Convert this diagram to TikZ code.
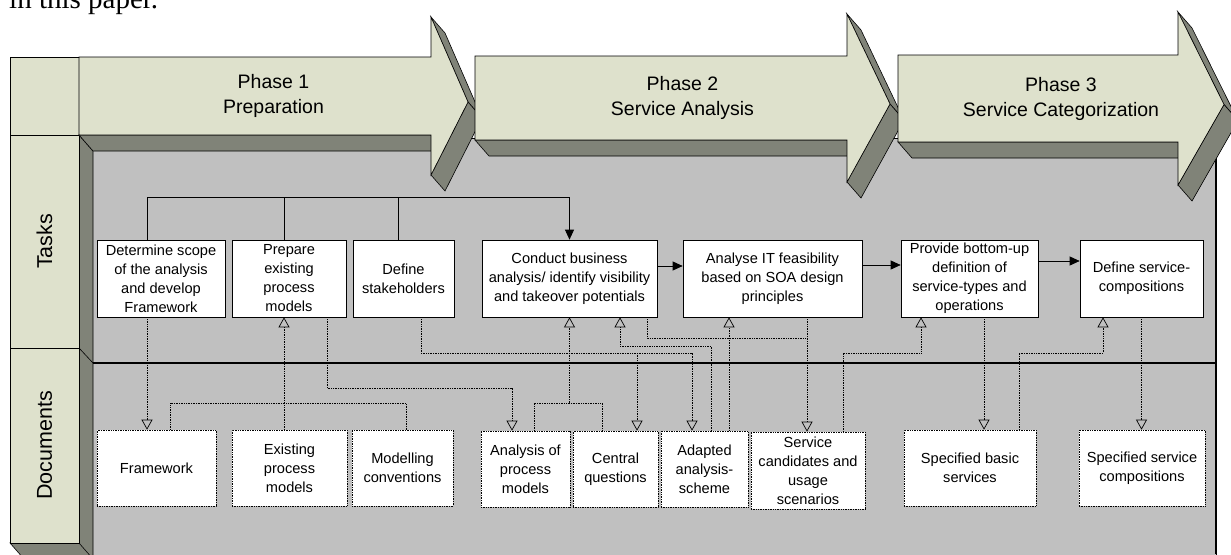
\documentclass[tikz,border=0pt]{standalone}
\usepackage{fontspec}
\setmainfont{Liberation Sans}
\newfontfamily\textserif{Liberation Serif}
\usetikzlibrary{arrows.meta}
\definecolor{facecol}{RGB}{222,225,204}
\definecolor{sidecol}{RGB}{128,131,120}
\definecolor{panelcol}{RGB}{192,192,192}
% name, left, neck, tip, top, bottom, head top, head bottom, text
\newcommand\phasearrow[9]{%
  \filldraw[side] (#2,#6) -- (#3,#6) -- ++(14,16) -- ({#2+14},{#6+16}) -- cycle;
  \filldraw[side] (#3,#7) -- (#4,{(#5+#6)/2+6}) -- ++(14,16) -- ({#3+14},{#7+16}) -- cycle;
  \filldraw[side] (#4,{(#5+#6)/2+6}) -- (#3,#8) -- ++(14,16) -- ({#4+14},{(#5+#6)/2+22}) -- cycle;
  \filldraw[face] (#2,#5) -- (#3,#5) -- (#3,#7) -- (#4,{(#5+#6)/2+6}) -- (#3,#8) -- (#3,#6) -- (#2,#6) -- cycle;
  \node[phase] (#1) at ({(#2+#4)/2},{(#5+#6)/2}) {#9};
}

\begin{document}
\begin{tikzpicture}[x=1pt,y=-1pt,
    face/.style={fill=facecol,draw=black,line width=0.6pt},
    side/.style={fill=sidecol,draw=black,line width=0.6pt},
    phase/.style={align=center,font=\fontsize{19.5}{25}\selectfont},
    lane/.style={rotate=90,font=\fontsize{21.5}{26}\selectfont},
    task/.style={draw,fill=white,line width=0.7pt,align=center,inner sep=0pt,minimum height=77pt,font=\fontsize{14.6}{19}\selectfont},
    doc/.style={task,densely dotted,minimum height=76pt},
    flow/.style={line width=0.7pt,-{Triangle[width=9pt,length=10pt]}},
    dep/.style={densely dotted,line width=0.7pt},
    ref/.style={dep,-{Triangle[open,width=11pt,length=10pt,line width=0.7pt]}}]
  \useasboundingbox (0,0) rectangle (1231,554);
  \node[anchor=base west,inner sep=0pt,font=\textserif\fontsize{29}{29}\selectfont] (intro) at (9,9) {in this paper.};

  \filldraw[fill=panelcol,draw=black,line width=0.6pt] (79,138) rectangle (1216,570);
  \draw[line width=2pt] (1216,138) -- (1216,554);
  \filldraw[side] (79,135) -- (93,151) -- (93,570) -- (79,543) -- cycle;
  \filldraw[side] (10,543) -- (79,543) -- (93,559) -- (24,559) -- cycle;
  \draw[line width=0.6pt] (79,348) -- (93,363);
  \filldraw[face] (10,57) rectangle (79,135);
  \filldraw[face] (10,135) rectangle (79,348);
  \filldraw[face] (10,348) rectangle (79,543);
  \node[lane] (tasks) at (44.5,241.5) {Tasks};
  \node[lane] (docs) at (44.5,445.5) {Documents};

  \phasearrow{ph1}{79}{431}{468}{57}{135}{17}{175}{Phase 1\\Preparation}
  \phasearrow{ph2}{475}{847}{890}{56}{140}{14}{182}{Phase 2\\Service Analysis}
  \phasearrow{ph3}{898}{1178}{1224}{55}{142}{12}{185}{Phase 3\\Service Categorization}

  \draw[line width=1.5pt] (93,363) -- (1216,363);

  \node[task,minimum width=128pt] (t1) at (161,278.5) {Determine scope\\of the analysis\\and develop\\Framework};
  \node[task,minimum width=114pt] (t2) at (289,278.5) {Prepare\\existing\\process\\models};
  \node[task,minimum width=101pt] (t3) at (403.5,278.5) {Define\\stakeholders};
  \node[task,minimum width=175pt] (t4) at (569.5,278.5) {Conduct business\\analysis/ identify visibility\\and takeover potentials};
  \node[task,minimum width=179pt] (t5) at (772.5,278.5) {Analyse IT feasibility\\based on SOA design\\principles};
  \node[task,minimum width=137pt] (t6) at (969.5,278.5) {Provide bottom-up\\definition of\\service-types and\\operations};
  \node[task,minimum width=123pt] (t7) at (1141.5,278.5) {Define service-\\compositions};

  \node[doc,minimum width=119pt] (d1) at (156.5,468) {Framework};
  \node[doc,minimum width=115pt] (d2) at (289.5,468) {Existing\\process\\models};
  \node[doc,minimum width=101pt] (d3) at (402.5,468) {Modelling\\conventions};
  \node[doc,minimum width=89pt] (d4) at (525.5,469) {Analysis of\\process\\models};
  \node[doc,minimum width=85pt] (d5) at (615.5,469) {Central\\questions};
  \node[doc,minimum width=87pt] (d6) at (704.5,469) {Adapted\\analysis-\\scheme};
  \node[doc,minimum width=114pt,minimum height=77pt] (d7) at (808,470.5) {Service\\candidates and\\usage\\scenarios};
  \node[doc,minimum width=132pt] (d8) at (970,468) {Specified basic\\services};
  \node[doc,minimum width=126pt] (d9) at (1142,468) {Specified service\\compositions};

  \coordinate (u1) at (147,197);
  \coordinate (u2) at (284,197);
  \coordinate (u3) at (398,197);
  \draw[flow] (t1.north -| u1) -- (u1) -| (t4.north);
  \draw[line width=0.7pt] (t2.north -| u2) -- (u2);
  \draw[line width=0.7pt] (t3.north -| u3) -- (u3);
  \draw[flow] ([yshift=12.5pt]t4.east) -- ([yshift=12.5pt]t5.west);
  \draw[flow] ([yshift=13.5pt]t5.east) -- ([yshift=13.5pt]t6.west);
  \draw[flow] ([yshift=17.5pt]t6.east) -- ([yshift=17.5pt]t7.west);

  \draw[ref] (t1.south -| u1) -- (d1.north -| u1);
  \coordinate (v1) at (170,403);
  \coordinate (v2) at (406,403);
  \draw[dep] (d1.north -| v1) -- (v1) -- (v2) -- (d3.north -| v2);
  \draw[ref] (d2.north -| u2) -- (t2.south -| u2);
  \coordinate (v3) at (327,388);
  \coordinate (v4) at (512,388);
  \draw[ref] (t2.south -| v3) -- (v3) -- (v4) -- (d4.north -| v4);
  \coordinate (v5) at (421,353);
  \coordinate (v6) at (637,353);
  \coordinate (v7) at (692,353);
  \draw[ref] (t3.south -| v5) -- (v5) -- (v7) -- (d6.north -| v7);
  \draw[ref] (v6) -- (d5.north -| v6);
  \coordinate (v8) at (534,403);
  \coordinate (v9) at (602,403);
  \draw[dep] (d4.north -| v8) -- (v8) -- (v9) -- (d5.north -| v9);
  \draw[ref] (t4.south |- v8) -- (t4.south);
  \coordinate (v10) at (620,346);
  \coordinate (v11) at (711,346);
  \draw[ref] (d6.north -| v11) -- (v11) -- (v10) -- (t4.south -| v10);
  \coordinate (v12) at (647,338);
  \coordinate (v13) at (807,338);
  \draw[dep] (t4.south -| v12) -- (v12) -- (v13);
  \draw[ref] (t5.south -| v13) -- (d7.north -| v13);
  \coordinate (v14) at (729,346);
  \draw[ref] (d6.north -| v14) -- (t5.south -| v14);
  \coordinate (v15) at (843,353);
  \coordinate (v16) at (921,353);
  \draw[ref] (d7.north -| v15) -- (v15) -- (v16) -- (t6.south -| v16);
  \coordinate (v17) at (984,353);
  \draw[ref] (t6.south -| v17) -- (d8.north -| v17);
  \coordinate (v18) at (1019,353);
  \coordinate (v19) at (1103,353);
  \draw[ref] (d8.north -| v18) -- (v18) -- (v19) -- (t7.south -| v19);
  \draw[ref] (t7.south) -- (d9.north -| t7.south);
\end{tikzpicture}
\end{document}
